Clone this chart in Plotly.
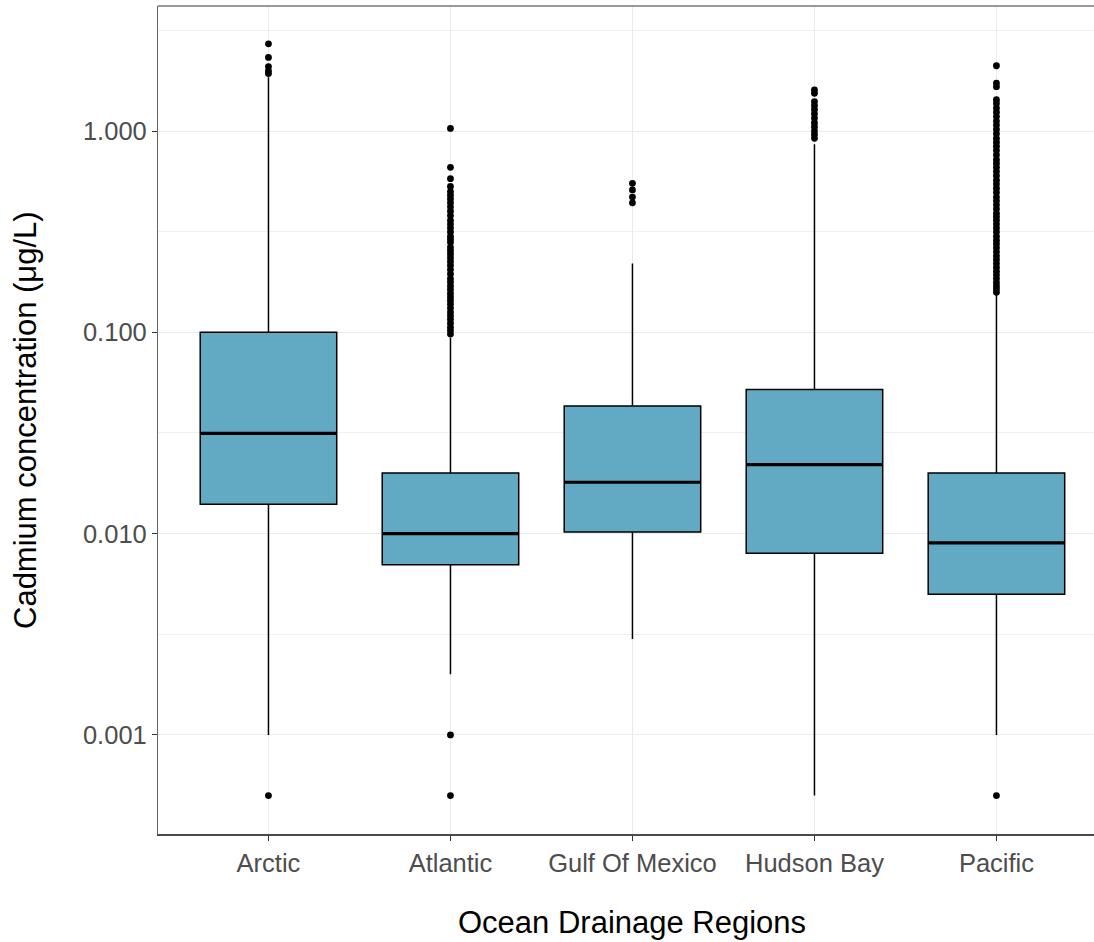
import plotly.graph_objects as go

# ---------------- data ----------------
regions = ["Arctic", "Atlantic", "Gulf Of Mexico", "Hudson Bay", "Pacific"]
lower_whisker = [0.001, 0.002, 0.003, 0.0005, 0.001]
q1_vals = [0.014, 0.007, 0.0102, 0.008, 0.005]
median_vals = [0.0315, 0.010, 0.018, 0.022, 0.009]
q3_vals = [0.100, 0.020, 0.043, 0.052, 0.020]
upper_whisker = [1.85, 0.094, 0.22, 0.86, 0.155]

outliers_arctic = [2.71, 2.32, 2.09, 1.99, 1.93, 0.0005]
outliers_atlantic = [1.03, 0.66, 0.58, 0.53, 0.50, 0.48, 0.46, 0.44, 0.42, 0.40,
                     0.38, 0.36, 0.345, 0.33, 0.315, 0.30, 0.29, 0.28, 0.265, 0.255,
                     0.245, 0.235, 0.225, 0.215, 0.205, 0.195, 0.185, 0.178, 0.17,
                     0.163, 0.156, 0.15, 0.144, 0.138, 0.132, 0.126, 0.121, 0.116,
                     0.111, 0.106, 0.102, 0.098, 0.001, 0.0005]
outliers_gulf = [0.55, 0.51, 0.47, 0.44]
outliers_hudson = [1.60, 1.54, 1.40, 1.34, 1.28, 1.22, 1.16, 1.10, 1.05, 1.00, 0.96, 0.92]
outliers_pacific = [2.11, 1.73, 1.66, 1.43, 1.37, 1.30, 1.24, 1.18, 1.12, 1.07, 1.02,
                    0.97, 0.92, 0.88, 0.84, 0.80, 0.76, 0.72, 0.69, 0.66, 0.63, 0.60,
                    0.57, 0.545, 0.52, 0.495, 0.47, 0.45, 0.43, 0.41, 0.39, 0.375,
                    0.36, 0.345, 0.33, 0.315, 0.30, 0.287, 0.275, 0.263, 0.251,
                    0.24, 0.23, 0.22, 0.21, 0.201, 0.193, 0.185, 0.177, 0.17,
                    0.164, 0.158, 0.0005]
outliers = [outliers_arctic, outliers_atlantic, outliers_gulf, outliers_hudson, outliers_pacific]

y_tickvals = [0.001, 0.01, 0.1, 1.0]
y_ticktext = ["0.001", "0.010", "0.100", "1.000"]

# ---------------- styling ----------------
FILL = "#62A9C4"
BOX_W = 0.75
FONT = "Liberation Sans, Arial, sans-serif"
positions = list(range(len(regions)))

fig = go.Figure()

fig.add_trace(go.Box(
    x=positions,
    q1=q1_vals, median=median_vals, q3=q3_vals,
    lowerfence=lower_whisker, upperfence=upper_whisker,
    width=BOX_W, whiskerwidth=0,
    fillcolor=FILL, line=dict(color="black", width=1.5),
    boxpoints=False, showlegend=False, hoverinfo="skip",
))

# thicker median lines
mx, my = [], []
for i, m in zip(positions, median_vals):
    mx += [i - BOX_W / 2, i + BOX_W / 2, None]
    my += [m, m, None]
fig.add_trace(go.Scatter(x=mx, y=my, mode="lines",
                         line=dict(color="black", width=3.2),
                         showlegend=False, hoverinfo="skip"))

# outliers
for i, vals in zip(positions, outliers):
    fig.add_trace(go.Scatter(x=[i] * len(vals), y=vals, mode="markers",
                             marker=dict(color="black", size=6.8),
                             showlegend=False, hoverinfo="skip"))

grid = "#EBEBEB"
fig.update_layout(
    width=1094, height=942,
    margin=dict(l=158, r=0, t=6, b=108),
    paper_bgcolor="white", plot_bgcolor="white",
    font=dict(family=FONT),
    xaxis=dict(
        range=[-0.607, 4.536], tickvals=positions, ticktext=regions,
        showgrid=True, gridcolor=grid, gridwidth=1.2, zeroline=False,
        showline=True, linecolor="#4a4a4a", linewidth=2,
        ticks="outside", ticklen=5, tickcolor="#333333", tickwidth=1,
        tickfont=dict(size=25.5, color="#4D4D4D", family=FONT),
    ),
    yaxis=dict(
        type="log", range=[-3.492, 0.621],
        tickvals=y_tickvals, ticktext=y_ticktext,
        showgrid=True, gridcolor=grid, gridwidth=1.2, zeroline=False,
        showline=True, linecolor="#666666", linewidth=1.3,
        ticks="outside", ticklen=5, tickcolor="#333333", tickwidth=1,
        tickfont=dict(size=25.5, color="#4D4D4D", family=FONT),
        minor=dict(tickvals=[10 ** -2.5, 10 ** -1.5, 10 ** -0.5, 10 ** 0.5],
                   showgrid=True, gridcolor="#F0F0F0", gridwidth=1, ticks=""),
    ),
    shapes=[dict(type="line", xref="paper", yref="paper", x0=0, x1=1, y0=1, y1=1,
                 line=dict(color="#777777", width=1.3))],
    annotations=[
        dict(text="Ocean Drainage Regions", xref="paper", yref="paper",
             x=(631.5 - 158) / 936, y=-(922 - 834) / 828, yanchor="middle", xanchor="center",
             showarrow=False, font=dict(size=31, color="black", family=FONT)),
        dict(text="Cadmium concentration (μg/L)", xref="paper", yref="paper",
             x=-(158 - 25) / 936, y=0.5, xanchor="center", yanchor="middle",
             textangle=-90, showarrow=False,
             font=dict(size=31, color="black", family=FONT)),
    ],
)

fig.write_html("out.html")
